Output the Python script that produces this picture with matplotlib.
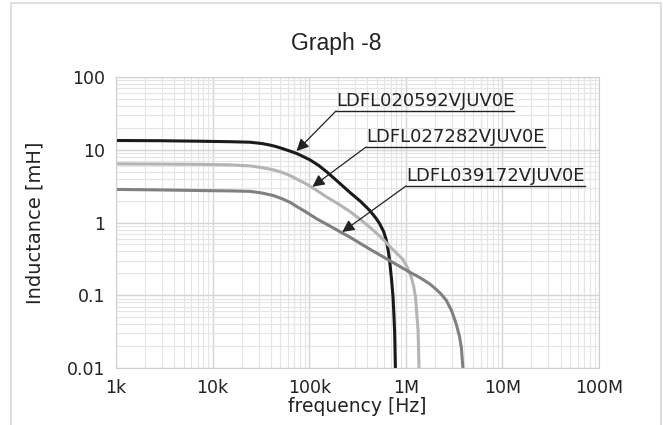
import matplotlib
matplotlib.use('Agg')
import matplotlib.pyplot as plt
from matplotlib.patches import Rectangle
from matplotlib.ticker import LogLocator, FixedLocator, NullFormatter

# LDFL020592VJUV0E (black)
f1 = [1e3, 3e3, 7.4e3, 1.5e4, 2.43e4, 3.2e4, 3.92e4, 4.6e4, 5.37e4, 6.3e4, 7.4e4, 8.6e4, 1.01e5,
      1.25e5, 1.51e5, 2.0e5, 2.63e5, 3.4e5, 4.24e5, 4.9e5, 5.37e5, 5.9e5, 6.3e5, 6.6e5, 6.8e5,
      7.1e5, 7.38e5, 7.55e5, 7.67e5, 7.8e5]
l1 = [13.4, 13.3, 13.1, 12.9, 12.7, 12.2, 11.6, 11.0, 10.3, 9.6, 8.9, 8.1, 7.3,
      6.1, 5.0, 3.6, 2.6, 1.95, 1.46, 1.15, 0.96, 0.75, 0.565, 0.4, 0.3,
      0.17, 0.094, 0.05, 0.03, 0.01]
# LDFL027282VJUV0E (light grey)
f2 = [1e3, 3e3, 7.4e3, 1.5e4, 2.43e4, 3.2e4, 4.24e4, 5.2e4, 6.3e4, 7.6e4, 9.3e4, 1.2e5, 1.51e5,
      2.0e5, 2.63e5, 3.4e5, 4.24e5, 5.6e5, 6.8e5, 8.0e5, 9.35e5, 1.04e6, 1.14e6, 1.21e6, 1.26e6,
      1.3e6, 1.34e6, 1.37e6]
l2 = [6.4, 6.35, 6.3, 6.2, 6.0, 5.7, 5.3, 4.9, 4.43, 3.9, 3.4, 2.75, 2.25,
      1.8, 1.42, 1.1, 0.86, 0.62, 0.47, 0.38, 0.31, 0.24, 0.177, 0.13, 0.094,
      0.055, 0.033, 0.01]
# LDFL039172VJUV0E (dark grey)
f3 = [1e3, 3e3, 7.4e3, 1.5e4, 2.43e4, 3.2e4, 4.24e4, 5.2e4, 6.3e4, 7.6e4, 9.3e4, 1.2e5, 1.51e5,
      2.0e5, 2.63e5, 4.24e5, 6.8e5, 1.1e6, 1.4e6, 1.77e6, 2.0e6, 2.3e6, 2.63e6, 3.0e6, 3.33e6,
      3.6e6, 3.76e6, 3.9e6]
l3 = [2.85, 2.8, 2.75, 2.72, 2.68, 2.55, 2.35, 2.13, 1.9, 1.63, 1.39, 1.12, 0.95,
      0.77, 0.63, 0.43, 0.3, 0.207, 0.175, 0.143, 0.125, 0.105, 0.085, 0.06, 0.04,
      0.027, 0.019, 0.01]

names = ['LDFL020592VJUV0E', 'LDFL027282VJUV0E', 'LDFL039172VJUV0E']
colors = ['#1a1a1a', '#b4b4b4', '#808080']

x_ticks = [1e3, 1e4, 1e5, 1e6, 1e7, 1e8]
x_labels = ['1k', '10k', '100k', '1M', '10M', '100M']
y_ticks = [0.01, 0.1, 1, 10, 100]
y_labels = ['0.01', '0.1', '1', '10', '100']

fig = plt.figure(figsize=(6.63, 4.25), dpi=100)
fig.patches.append(Rectangle((11 / 663, -0.01), 650 / 663, 1 - 3 / 425 + 0.01,
                             transform=fig.transFigure, fill=False,
                             edgecolor='#d9d9d9', linewidth=1.2))
ax = fig.add_axes([116 / 663, 1 - 368 / 425, (599 - 116) / 663, (368 - 77) / 425])

for f, l, c in zip([f1, f2, f3], [l1, l2, l3], colors):
    ax.plot(f, l, color=c, linewidth=2.2, solid_joinstyle='round', solid_capstyle='butt')

ax.set_xscale('log')
ax.set_yscale('log')
ax.set_xlim(1e3, 1e8)
ax.set_ylim(0.01, 100)
ax.xaxis.set_major_locator(FixedLocator(x_ticks))
ax.set_xticklabels(x_labels)
ax.yaxis.set_major_locator(FixedLocator(y_ticks))
ax.set_yticklabels(y_labels)
ax.xaxis.set_minor_locator(LogLocator(base=10, subs=range(2, 10), numticks=20))
ax.yaxis.set_minor_locator(LogLocator(base=10, subs=range(2, 10), numticks=20))
ax.xaxis.set_minor_formatter(NullFormatter())
ax.yaxis.set_minor_formatter(NullFormatter())
ax.grid(which='major', color='#d4d4d4', linewidth=1.0)
ax.grid(which='minor', color='#e4e4e4', linewidth=0.8)
ax.set_axisbelow(True)
ax.tick_params(which='both', length=0, labelsize=12.5, colors='#222222', pad=8)
for s in ax.spines.values():
    s.set_color('#d0d0d0')

ax.set_xlabel('frequency [Hz]', fontsize=13.5, labelpad=0, color='#222222')
ax.set_ylabel('Inductance [mH]', fontsize=14, labelpad=16, color='#222222')
fig.text(336 / 663, 1 - 50 / 425, 'Graph -8', ha='center', va='baseline',
         fontsize=16.5, family='Liberation Sans', color='#222222')

# annotations: text position (pixels) and arrow tip (data)
label_pos = [(336, 111), (366, 147), (406, 186)]
tips = [(7.4e4, 9.6), (1.08e5, 3.1), (2.2e5, 0.74)]
fig.canvas.draw()
renderer = fig.canvas.get_renderer()
for name, (px, py), tip in zip(names, label_pos, tips):
    xy_text = (px / 663, 1 - py / 425)
    t = fig.text(xy_text[0], xy_text[1] + 0.003, name, fontsize=13, ha='left', va='bottom',
                 color='#222222')
    bb = t.get_window_extent(renderer)
    w = bb.width / fig.bbox.width
    fig.add_artist(plt.Line2D([xy_text[0], xy_text[0] + w], [xy_text[1]] * 2,
                              transform=fig.transFigure, color='#222222', linewidth=1))
    ax.annotate('', xy=tip, xycoords='data', xytext=xy_text, textcoords='figure fraction',
                arrowprops=dict(arrowstyle='-|>', color='#222222', lw=0.9,
                                mutation_scale=18, shrinkA=0, shrinkB=0))

fig.savefig('out.png', dpi=100)
